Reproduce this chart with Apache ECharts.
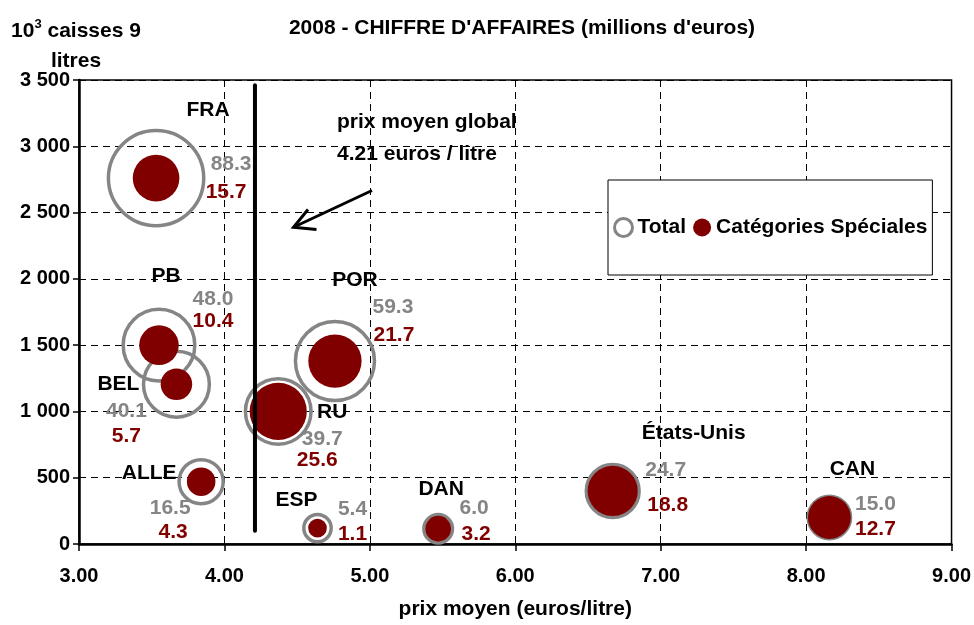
<!DOCTYPE html>
<html><head><meta charset="utf-8">
<script src="https://cdn.jsdelivr.net/npm/echarts@6/dist/echarts.min.js"></script>
<style>html,body{margin:0;padding:0;background:#fff}#c{width:974px;height:625px}</style>
</head><body><div id="c"></div>
<script>
// ---- data ----
const countries = ['FRA','PB','BEL','ALLE','RU','POR','ESP','DAN','États-Unis','CAN'];
const avgPrice = [3.53,3.55,3.67,3.84,4.37,4.76,4.64,5.47,6.67,8.16];       // euros / litre
const volume = [2760,1500,1205,470,1000,1380,120,115,400,200];               // 10^3 caisses 9 litres
const totalRevenue = [88.3,48.0,40.1,16.5,39.7,59.3,5.4,6.0,24.7,15.0];      // M€
const specialRevenue = [15.7,10.4,5.7,4.3,25.6,21.7,1.1,3.2,18.8,12.7];      // M€
const globalAvgPrice = 4.21;
const avgLineSpan = [100, 3460];
const xTickMin = 3, xTickMax = 9, xTickStep = 1;
const yTickMin = 0, yTickMax = 3500, yTickStep = 500;

// ---- layout (label offsets in px, relative to bubble centre) ----
const nameOffsets = [[52,-68],[7,-69],[-58,0],[-52,-8],[54,1],[20,-81],[-21,-28],[3,-40],[81,-58],[23,-48]];
const totalOffsets = [[75,-14],[54,-46],[-50,27],[-31,27],[44,28],[58,-54],[35,-19],[36,-21],[53,-21],[46,-13]];
const specialOffsets = [[70,14],[54,-24],[-50,52],[-28,51],[39,49],[59,-26],[35,6],[38,5],[55,14],[46,12]];

const FONT = 'Liberation Sans';
const GRAY = '#858585', RED = '#800000';
const ringWidth = 3.5;
const radius = v => 4.3 + 4.8 * Math.sqrt(v);

const chart = echarts.init(document.getElementById('c'), null, {renderer: 'canvas'});

const labelBase = {show: true, position: 'inside', fontFamily: FONT, fontWeight: 'bold', fontSize: 21,
                   textBorderWidth: 0, textShadowBlur: 0, opacity: 1};

const ringData = countries.map((n, i) => ({
  name: n, value: [avgPrice[i], volume[i], totalRevenue[i]],
  label: {offset: totalOffsets[i]}
}));
const redData = countries.map((n, i) => ({
  name: n, value: [avgPrice[i], volume[i], specialRevenue[i]],
  label: {offset: specialOffsets[i]}
}));
const nameData = countries.map((n, i) => ({
  name: n, value: [avgPrice[i], volume[i]],
  label: {offset: nameOffsets[i]}
}));

const fmtY = v => v >= 1000 ? Math.floor(v/1000) + ' ' + String(v % 1000).padStart(3,'0') : String(v);

chart.setOption({
  animation: false,
  title: {
    text: "2008 - CHIFFRE D'AFFAIRES (millions d'euros)",
    left: 517, top: 13, textAlign: 'center',
    textStyle: {fontFamily: FONT, fontWeight: 'bold', fontSize: 21, color: '#000'}
  },
  grid: {left: 79, right: 21, top: 80, bottom: 76, show: true, borderColor: '#000', borderWidth: 1.5, backgroundColor: 'transparent'},
  legend: {
    left: 608, top: 180, orient: 'horizontal',
    padding: [37, 5, 37, 5], itemGap: 7, itemWidth: 18, itemHeight: 18,
    backgroundColor: '#fff', borderColor: '#000', borderWidth: 1,
    textStyle: {fontFamily: FONT, fontWeight: 'bold', fontSize: 21, color: '#000'},
    data: [
      {name: 'Total', icon: 'circle', itemStyle: {color: 'transparent', borderColor: GRAY, borderWidth: 3}},
      {name: 'Catégories Spéciales', icon: 'circle', itemStyle: {color: RED}}
    ]
  },
  xAxis: {
    type: 'value', min: xTickMin, max: xTickMax, interval: xTickStep,
    name: 'prix moyen (euros/litre)', nameLocation: 'middle', nameGap: 55,
    nameTextStyle: {fontFamily: FONT, fontWeight: 'bold', fontSize: 21, color: '#000'},
    axisLine: {show: true, lineStyle: {color: '#000', width: 2.5}},
    axisTick: {show: true, length: 7, lineStyle: {color: '#000', width: 1.5}},
    axisLabel: {margin: 22, fontFamily: FONT, fontWeight: 'bold', fontSize: 20, color: '#000', formatter: v => v.toFixed(2)},
    splitLine: {show: true, lineStyle: {color: '#000', width: 1, type: [7, 5]}}
  },
  yAxis: {
    type: 'value', min: yTickMin, max: yTickMax, interval: yTickStep,
    axisLine: {show: true, lineStyle: {color: '#000', width: 2.5}},
    axisTick: {show: true, length: 6, lineStyle: {color: '#000', width: 1.5}},
    axisLabel: {margin: 9, fontFamily: FONT, fontWeight: 'bold', fontSize: 20, color: '#000', formatter: fmtY},
    splitLine: {show: true, lineStyle: {color: '#000', width: 1, type: [7, 5]}}
  },
  graphic: [
    {type: 'text', x: 76, y: 16, z: 10,
     style: {
       text: '{a|10}{s|3}{a| caisses 9}\n{a|litres}', align: 'center', verticalAlign: 'top',
       rich: {
         a: {fontFamily: FONT, fontWeight: 'bold', fontSize: 21, lineHeight: 30, fill: '#000'},
         s: {fontFamily: FONT, fontWeight: 'bold', fontSize: 13, lineHeight: 30, verticalAlign: 'top', padding: [2,0,0,0], fill: '#000'}
       }
     }},
    {type: 'text', x: 337, y: 122, z: 10,
     style: {text: 'prix moyen global', fontFamily: FONT, fontWeight: 'bold', fontSize: 21, fill: '#000', verticalAlign: 'middle'}},
    {type: 'text', x: 337, y: 154, z: 10,
     style: {text: globalAvgPrice.toFixed(2) + ' euros / litre', fontFamily: FONT, fontWeight: 'bold', fontSize: 21, fill: '#000', verticalAlign: 'middle'}},
    {type: 'polyline', z: 10, shape: {points: [[372, 190.5], [294, 227]]}, style: {stroke: '#000', lineWidth: 3, fill: null}},
    {type: 'polyline', z: 10, shape: {points: [[308, 209.5], [293.5, 227.3], [316.5, 229.5]]}, style: {stroke: '#000', lineWidth: 3, fill: null}}
  ],
  series: [
    {
      name: 'Total', type: 'scatter', z: 2,
      data: ringData,
      symbol: 'circle',
      symbolSize: val => 2 * radius(val[2]) - ringWidth,
      itemStyle: {color: 'transparent', borderColor: GRAY, borderWidth: ringWidth, opacity: 1},
      label: Object.assign({}, labelBase, {color: GRAY, formatter: p => p.value[2].toFixed(1)}),
      emphasis: {disabled: true}
    },
    {
      name: 'Catégories Spéciales', type: 'scatter', z: 3,
      data: redData,
      symbol: 'circle',
      symbolSize: val => 2 * radius(val[2]),
      itemStyle: {color: RED, opacity: 1},
      label: Object.assign({}, labelBase, {color: RED, formatter: p => p.value[2].toFixed(1)}),
      emphasis: {disabled: true}
    },
    {
      name: 'pays', type: 'scatter', z: 4, silent: true,
      data: nameData, symbolSize: 0,
      itemStyle: {color: '#000', opacity: 1},
      label: Object.assign({}, labelBase, {color: '#000', formatter: p => p.name}),
      emphasis: {disabled: true}
    },
    {
      name: 'prix moyen global', type: 'line', z: 6, silent: true,
      data: [[globalAvgPrice, avgLineSpan[0]], [globalAvgPrice, avgLineSpan[1]]],
      symbol: 'none', lineStyle: {color: '#000', width: 4, cap: 'round'},
      emphasis: {disabled: true}
    }
  ]
});
</script></body></html>
